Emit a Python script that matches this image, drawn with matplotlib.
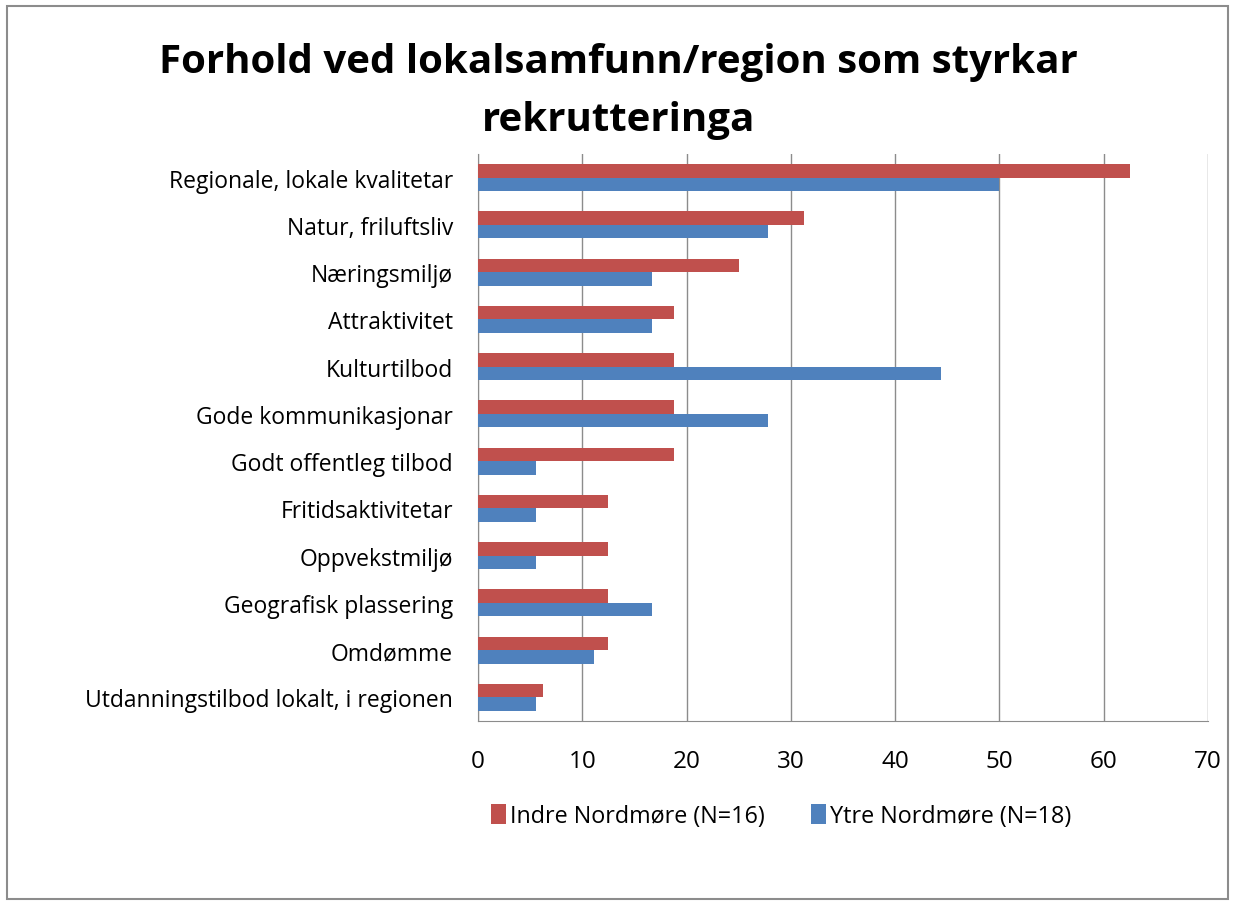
import numpy as np
from matplotlib import pyplot as plt
from matplotlib.patches import Rectangle

categories = ['Regionale, lokale kvalitetar', 'Natur, friluftsliv', 'Næringsmiljø',
              'Attraktivitet', 'Kulturtilbod', 'Gode kommunikasjonar',
              'Godt offentleg tilbod', 'Fritidsaktivitetar', 'Oppvekstmiljø',
              'Geografisk plassering', 'Omdømme', 'Utdanningstilbod lokalt, i regionen']
indre = [62.5, 31.25, 25.0, 18.75, 18.75, 18.75, 18.75, 12.5, 12.5, 12.5, 12.5, 6.25]
ytre = [50.0, 27.78, 16.67, 16.67, 44.44, 27.78, 5.56, 5.56, 5.56, 16.67, 11.11, 5.56]
series_names = ['Indre Nordmøre (N=16)', 'Ytre Nordmøre (N=18)']
xticks = [0, 10, 20, 30, 40, 50, 60, 70]

plt.rcParams['font.family'] = ['Open Sans', 'DejaVu Sans']

fig = plt.figure(figsize=(12.37, 9.03), dpi=100)
fig.patches.append(Rectangle((7/1237, 3/903), 1221/1237, 893/903, transform=fig.transFigure,
                             fill=False, edgecolor='#8c8c8c', linewidth=1.5))

ax = fig.add_axes([478/1237, 1 - 722/903, 730/1237, 567/903])

y = np.arange(len(categories))
h = 0.286
ax.barh(y - h/2, indre, height=h, color='#C0504D', label=series_names[0], zorder=3)
ax.barh(y + h/2, ytre, height=h, color='#4F81BD', label=series_names[1], zorder=3)

ax.set_xlim(0, 70)
ax.set_ylim(len(categories) - 0.5, -0.5)
ax.set_xticks(xticks)
ax.set_yticks(y)
ax.set_yticklabels(categories, fontsize=16.5)
ax.tick_params(axis='x', labelsize=17.5, length=0, pad=20)
ax.tick_params(axis='y', length=0, pad=18)
ax.grid(axis='x', color='#8c8c8c', linewidth=1, zorder=0)
for s in ['top', 'right']:
    ax.spines[s].set_visible(False)
for s in ['left', 'bottom']:
    ax.spines[s].set_color('#8c8c8c')

fig.text(0.5, 1 - 62/903, 'Forhold ved lokalsamfunn/region som styrkar', ha='center',
         va='center', fontsize=29, fontweight='bold')
fig.text(0.5, 1 - 120/903, 'rekrutteringa', ha='center', va='center', fontsize=29,
         fontweight='bold')

fig.legend(loc='center', bbox_to_anchor=(781/1237, 1 - 817/903), ncol=2, frameon=False,
           fontsize=16.8, handlelength=0.65, handleheight=0.9, handletextpad=0.15,
           columnspacing=2.0)

fig.savefig('out.png', dpi=100)
